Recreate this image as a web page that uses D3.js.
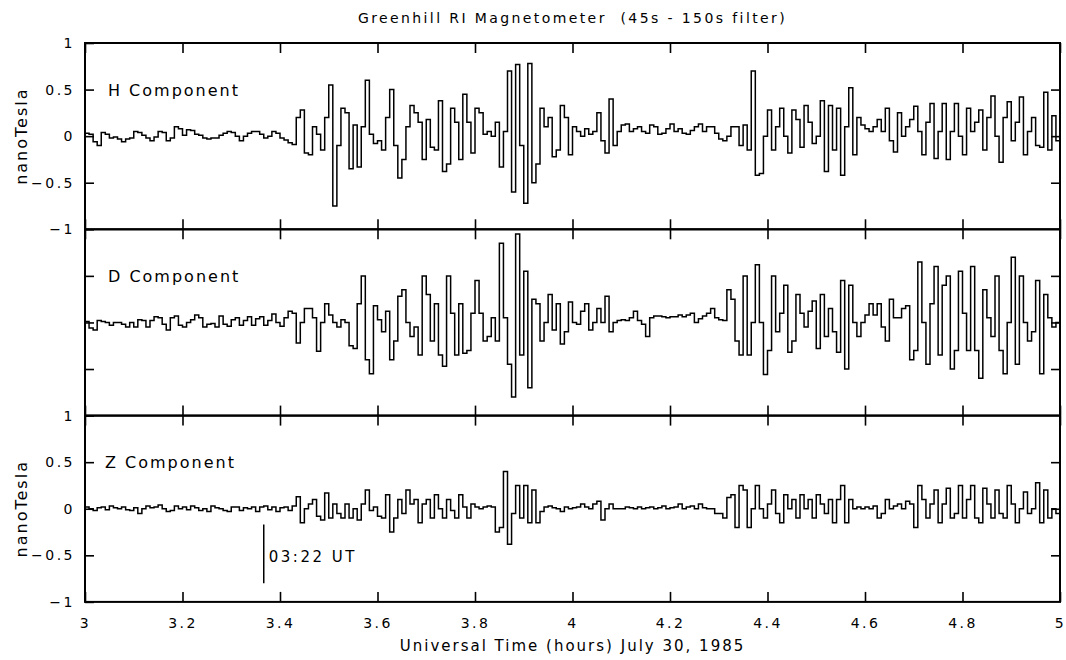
<!DOCTYPE html>
<html>
<head>
<meta charset="utf-8">
<script src="https://cdn.jsdelivr.net/npm/d3@7"></script>
<style>
  body { margin: 0; background: #fff; }
  text { font-family: "DejaVu Sans", sans-serif; fill: #000; }
</style>
</head>
<body>
<script>
// filtered magnetometer samples, one every 30 s from 03:00 to 05:00 UT (nT)
var hValues = [
  0.03, 0.02, -0.06, -0.1, 0.04, 0.02, -0.02, -0.01, -0.03, -0.06,
  -0.03, -0.02, 0.05, 0.04, 0.01, -0.02, -0.05, -0.01, 0.05, 0.04,
  -0.05, -0.02, 0.1, 0.08, 0.01, 0.07, 0.06, 0.02, 0.01, -0.02,
  -0.03, -0.02, -0.02, 0.01, 0.03, 0.05, 0.04, 0.0, -0.05, 0.0,
  0.03, 0.05, 0.05, 0.02, -0.02, 0.0, 0.05, 0.03, -0.02, -0.04,
  -0.07, -0.09, 0.2, 0.28, -0.18, -0.2, 0.1, 0.02, -0.15, 0.2,
  0.55, -0.75, -0.1, 0.3, 0.25, -0.35, 0.12, -0.33, 0.1, 0.6,
  0.02, -0.08, -0.05, -0.15, 0.2, 0.5, -0.1, -0.45, -0.25, 0.1,
  0.33, 0.25, 0.15, -0.25, 0.18, -0.12, -0.15, 0.38, -0.38, -0.3,
  0.3, 0.15, -0.25, 0.45, 0.15, -0.18, 0.3, 0.25, 0.02, 0.05,
  0.0, 0.15, -0.33, 0.05, 0.7, -0.6, 0.77, -0.1, -0.72, 0.78,
  -0.5, -0.3, 0.3, 0.1, 0.2, -0.22, -0.15, 0.33, 0.2, -0.2,
  0.1, 0.05, 0.0, 0.08, 0.02, 0.05, 0.25, -0.05, -0.18, 0.4,
  -0.1, 0.05, 0.12, 0.13, 0.05, 0.08, 0.1, 0.05, 0.03, 0.12,
  0.1, 0.02, 0.03, 0.08, 0.13, 0.05, 0.08, 0.03, 0.02, 0.06,
  0.1, 0.13, 0.05, 0.1, 0.1, 0.03, -0.03, -0.05, 0.0, 0.1,
  0.1, -0.1, 0.12, -0.15, 0.7, -0.42, -0.4, 0.0, 0.28, -0.15,
  0.1, 0.3, 0.0, -0.18, 0.28, 0.18, -0.12, 0.33, 0.15, -0.08,
  0.0, 0.38, -0.38, 0.33, -0.15, 0.3, -0.42, 0.1, 0.52, -0.2,
  0.2, 0.12, 0.08, 0.05, 0.1, 0.18, 0.05, 0.3, -0.05, -0.17,
  0.25, 0.0, 0.1, 0.18, 0.32, 0.05, -0.2, 0.15, 0.35, -0.24,
  0.05, 0.35, -0.25, 0.05, 0.35, 0.0, -0.2, 0.3, 0.05, 0.15,
  0.28, -0.15, 0.2, 0.43, 0.0, -0.28, 0.2, 0.37, -0.05, 0.15,
  0.42, -0.2, 0.05, 0.2, -0.1, -0.12, 0.47, -0.15, 0.22, -0.05
];

var dValues = [
  0.01, -0.06, -0.08, 0.02, 0.01, 0.0, -0.03, 0.0, 0.0, -0.02,
  -0.05, 0.0, -0.05, 0.03, 0.02, -0.05, 0.02, 0.06, 0.05, -0.02,
  -0.08, 0.05, 0.07, -0.03, -0.05, 0.0, 0.03, 0.08, 0.05, -0.05,
  -0.02, -0.01, -0.05, 0.07, -0.02, -0.04, 0.03, 0.05, -0.03, 0.02,
  0.06, -0.03, 0.04, 0.06, -0.03, 0.02, 0.09, 0.0, -0.04, 0.05,
  0.12, 0.1, -0.22, 0.0, 0.15, 0.15, 0.05, -0.31, 0.0, 0.2,
  0.08, 0.0, -0.05, 0.03, 0.0, -0.25, -0.28, 0.2, 0.5, -0.4,
  -0.55, 0.18, 0.03, -0.1, 0.12, -0.4, -0.2, 0.28, 0.35, 0.0,
  -0.15, -0.05, -0.35, 0.5, 0.3, -0.2, 0.2, -0.35, -0.47, 0.5,
  0.1, -0.35, 0.2, -0.33, -0.3, 0.1, 0.45, 0.1, -0.2, -0.15,
  0.05, -0.2, 0.85, 0.05, -0.45, -0.8, 0.95, -0.35, 0.55, -0.7,
  0.25, 0.2, -0.2, 0.0, 0.3, -0.08, 0.2, -0.23, -0.1, 0.22,
  0.0, -0.02, 0.12, 0.2, -0.08, 0.0, 0.15, 0.0, 0.28, -0.1,
  0.0, 0.02, 0.03, 0.02, 0.05, 0.12, 0.02, -0.02, -0.15, 0.05,
  0.07, 0.07, 0.06, 0.05, 0.06, 0.06, 0.08, 0.06, 0.08, 0.1,
  0.0, 0.04, 0.07, 0.1, 0.15, 0.05, 0.03, 0.02, 0.35, 0.25,
  -0.2, -0.35, 0.5, -0.35, 0.0, 0.62, 0.0, -0.56, -0.3, 0.5,
  -0.1, 0.1, 0.4, -0.32, -0.2, 0.3, 0.1, -0.05, 0.12, 0.23,
  -0.28, 0.3, -0.15, 0.15, -0.1, -0.32, 0.45, -0.5, 0.4, 0.0,
  -0.15, 0.0, 0.08, 0.2, 0.08, 0.2, -0.05, -0.2, 0.25, 0.05,
  0.05, 0.15, 0.18, -0.4, -0.3, 0.65, 0.0, -0.45, 0.2, 0.6,
  -0.35, 0.4, 0.5, -0.5, -0.3, 0.55, 0.1, -0.3, 0.6, -0.3,
  -0.6, 0.35, 0.05, -0.15, 0.5, -0.3, -0.55, 0.0, 0.7, -0.45,
  0.5, 0.0, -0.2, -0.1, 0.45, -0.55, 0.3, 0.05, -0.05, 0.0
];

var zValues = [
  0.02, 0.0, -0.02, 0.01, 0.02, -0.01, 0.03, 0.01, 0.0, 0.02,
  -0.01, -0.02, 0.01, -0.05, 0.0, 0.03, 0.01, 0.02, 0.04, 0.0,
  -0.03, -0.02, 0.03, 0.0, 0.02, -0.01, 0.03, 0.01, -0.02, 0.0,
  -0.03, 0.03, 0.01, 0.0, -0.02, -0.03, 0.02, 0.02, -0.02, 0.01,
  0.0, 0.02, -0.03, 0.02, 0.03, -0.01, 0.02, -0.03, 0.01, 0.02,
  -0.02, 0.03, 0.13, -0.15, 0.0, 0.05, 0.1, -0.08, -0.12, 0.17,
  -0.1, 0.05, -0.05, -0.1, 0.05, -0.1, 0.0, -0.12, 0.05, 0.2,
  -0.02, 0.02, -0.08, -0.1, 0.15, -0.25, -0.1, 0.1, -0.05, 0.2,
  0.05, 0.1, -0.15, 0.05, 0.1, -0.1, 0.15, 0.0, -0.1, 0.1,
  -0.02, -0.1, 0.15, 0.02, -0.1, 0.05, 0.02, 0.0, 0.02, 0.03,
  0.02, -0.25, -0.2, 0.4, -0.38, -0.05, 0.25, -0.1, 0.25, -0.15,
  0.2, -0.15, -0.03, 0.02, 0.03, 0.01, 0.0, -0.03, 0.02, 0.0,
  0.01, 0.02, 0.05, 0.02, 0.0, 0.05, 0.08, -0.12, 0.0, 0.05,
  0.0, 0.0, 0.0, 0.02, 0.01, 0.0, 0.02, 0.0, 0.01, 0.02,
  0.0, 0.01, 0.03, 0.0, 0.01, 0.02, 0.05, 0.0, 0.02, 0.03,
  0.0, 0.05, 0.01, 0.0, 0.0, -0.05, -0.05, -0.1, 0.12, 0.15,
  -0.2, 0.25, 0.2, -0.2, 0.0, 0.25, 0.0, -0.1, 0.05, 0.2,
  -0.05, -0.15, 0.15, 0.0, 0.1, -0.1, 0.15, 0.0, 0.1, -0.1,
  0.15, 0.05, -0.05, 0.1, -0.15, 0.1, 0.25, -0.15, 0.1, 0.0,
  0.02, 0.0, 0.02, 0.0, 0.03, -0.1, -0.05, 0.1, 0.0, 0.03,
  0.05, 0.0, 0.08, 0.05, -0.2, 0.25, 0.1, -0.1, 0.05, 0.2,
  -0.15, 0.05, 0.22, -0.1, -0.05, 0.25, -0.1, 0.1, 0.25, -0.1,
  -0.15, 0.22, 0.05, -0.1, 0.2, -0.05, -0.1, 0.25, 0.05, -0.15,
  0.0, 0.18, -0.05, 0.0, 0.28, -0.15, 0.2, -0.1, 0.0, -0.05
];

var panelNames = ["H Component", "D Component", "Z Component"];
var startHour = 3, endHour = 5;
var sampleHours = 30 / 3600;
var xTicks = [3, 3.2, 3.4, 3.6, 3.8, 4, 4.2, 4.4, 4.6, 4.8, 5];
var yTicks = [-1, -0.5, 0, 0.5, 1];
var innerTicks = [-0.5, 0, 0.5];
var markerHour = 3 + 22 / 60, markerFrom = -0.17, markerTo = -0.8;

var width = 1066,
    height = 660;

var plotLeft = 85, plotRight = 1060, plotTop = 43, panelH = 186.3;

var svg = d3.select("body").append("svg")
    .attr("width", width)
    .attr("height", height);

var x = d3.scaleLinear().domain([startHour, endHour]).range([plotLeft, plotRight]);
var fmt = d3.format("");

var line = d3.line()
    .curve(d3.curveStepAfter)
    .x(function(d) { return x(d[0]); })
    .y(function(d) { return d[1]; });

var series = [hValues, dValues, zValues];

series.forEach(function(values, p) {
  var y0 = plotTop + p * panelH;
  var y = d3.scaleLinear().domain([-1, 1]).range([y0 + panelH, y0]);
  var g = svg.append("g");

  var pts = values.map(function(v, i) { return [startHour + i * sampleHours, y(v)]; });
  pts.push([endHour, y(values[values.length - 1])]);

  g.append("path")
    .attr("d", line(pts))
    .attr("fill", "none")
    .attr("stroke", "#000")
    .attr("stroke-width", 1.5);

  // x ticks, pointing inward, top and bottom of each panel
  g.append("g")
    .attr("transform", "translate(0," + (y0 + panelH) + ")")
    .call(d3.axisBottom(x).tickValues(xTicks).tickSize(-10).tickPadding(16)
      .tickFormat(p == 2 ? fmt : ""));
  g.append("g")
    .attr("transform", "translate(0," + y0 + ")")
    .call(d3.axisTop(x).tickValues(xTicks).tickSize(-10).tickFormat(""));

  // y ticks
  var leftAxis = d3.axisLeft(y).tickSize(-9).tickPadding(10);
  if (p == 1) leftAxis.tickValues(innerTicks).tickFormat("");
  else leftAxis.tickValues(yTicks).tickFormat(fmt);
  g.append("g")
    .attr("transform", "translate(" + plotLeft + ",0)")
    .call(leftAxis);
  g.append("g")
    .attr("transform", "translate(" + plotRight + ",0)")
    .call(d3.axisRight(y).tickValues(innerTicks).tickSize(-9).tickFormat(""));

  g.selectAll(".domain").remove();
  g.selectAll(".tick line").attr("stroke", "#000").attr("stroke-width", 1.6);
  g.selectAll(".tick text")
    .style("font-size", "14px")
    .style("letter-spacing", "2.5px")
    .attr("fill", "#000");

  g.append("rect")
    .attr("x", plotLeft)
    .attr("y", y0)
    .attr("width", plotRight - plotLeft)
    .attr("height", panelH)
    .attr("fill", "none")
    .attr("stroke", "#000")
    .attr("stroke-width", 2);

  g.append("text")
    .attr("x", p == 2 ? 105 : 108)
    .attr("y", y(0.5) + 6)
    .style("font-size", "16px")
    .style("letter-spacing", "2px")
    .text(panelNames[p]);

  if (p != 1) {
    g.append("text")
      .attr("transform", "translate(27," + y(0) + ") rotate(-90)")
      .attr("text-anchor", "middle")
      .style("font-size", "16px")
      .style("letter-spacing", "2px")
      .text("nanoTesla");
  }

  if (p == 2) {
    g.append("line")
      .attr("x1", x(markerHour)).attr("x2", x(markerHour))
      .attr("y1", y(markerFrom)).attr("y2", y(markerTo))
      .attr("stroke", "#000")
      .attr("stroke-width", 1.5);
    g.append("text")
      .attr("x", x(markerHour) + 5)
      .attr("y", y(-0.57))
      .style("font-size", "15px")
      .style("letter-spacing", "2.5px")
      .text("03:22 UT");
  }
});

svg.append("text")
  .attr("x", (plotLeft + plotRight) / 2)
  .attr("y", 23)
  .attr("text-anchor", "middle")
  .style("font-size", "14px")
  .style("letter-spacing", "2.4px")
  .style("white-space", "pre")
  .text("Greenhill RI Magnetometer  (45s - 150s filter)");

svg.append("text")
  .attr("x", (plotLeft + plotRight) / 2)
  .attr("y", 651)
  .attr("text-anchor", "middle")
  .style("font-size", "15px")
  .style("letter-spacing", "2px")
  .text("Universal Time (hours) July 30, 1985");
</script>
</body>
</html>
